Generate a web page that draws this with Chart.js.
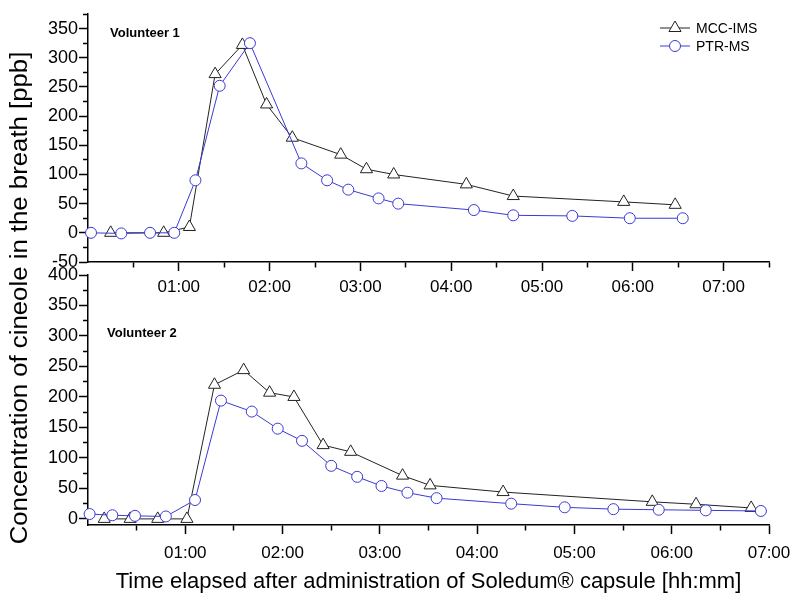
<!DOCTYPE html>
<html>
<head>
<meta charset="utf-8">
<script src="https://cdn.jsdelivr.net/npm/chart.js@4.4.0/dist/chart.umd.min.js"></script>
<style>
  body { margin: 0; background: #fff; }
  #wrap { position: relative; width: 800px; height: 607px; }
  #wrap canvas { position: absolute; left: 0; top: 0; }
</style>
</head>
<body>
<div id="wrap">
  <canvas id="topChart" width="800" height="607"></canvas>
  <canvas id="bottomChart" width="800" height="607"></canvas>
</div>
<script>
// Volunteer 1 - time in minutes after capsule, concentration in ppb
const v1MccTime = [15, 50, 67, 84, 102, 118, 135, 167, 184, 202, 250, 281, 354, 388];
const v1MccValue = [0, 0, 10, 272, 322, 220, 163, 134, 109, 100, 83, 63, 53, 48];
const v1PtrTime = [2, 22, 41, 57, 71, 87, 107, 141, 158, 172, 192, 205, 255, 281, 320, 358, 393];
const v1PtrValue = [0, -1, 0, 0, 90, 252, 325, 119, 90, 74, 59, 50, 39, 30, 29, 25, 25];

// Volunteer 2
const v2MccTime = [10, 26, 43, 61, 78, 96, 112, 127, 145, 162, 194, 211, 256, 348, 375, 409];
const v2MccValue = [0, 0, 0, 0, 220, 244, 207, 200, 121, 110, 71, 55, 44, 28, 24, 18];
const v2PtrTime = [1, 15, 29, 48, 66, 82, 101, 117, 132, 150, 166, 181, 197, 215, 261, 294, 324, 352, 381, 415];
const v2PtrValue = [8, 6, 5, 4, 31, 194, 176, 148, 128, 87, 69, 54, 43, 34, 25, 19, 16, 15, 14, 13];

// Tick labels
const timeTicks = [60, 120, 180, 240, 300, 360, 420];
const timeTickLabels = ['01:00', '02:00', '03:00', '04:00', '05:00', '06:00', '07:00'];

const seriesNames = ['MCC-IMS', 'PTR-MS'];
const panelNames = ['Volunteer 1', 'Volunteer 2'];
const yTitle = 'Concentration of cineole in the breath [ppb]';
const xTitle = 'Time elapsed after administration of Soledum\u00AE capsule [hh:mm]';

const BLUE = '#3a3ad4';
const FONT = '"Liberation Sans", Arial, sans-serif';

function pairs(xs, ys) {
    return xs.map((x, i) => ({ x: x, y: ys[i] }));
}

function makeDatasets(mccT, mccV, ptrT, ptrV) {
    return [
        {
            label: seriesNames[0],
            data: pairs(mccT, mccV),
            borderColor: '#222',
            borderWidth: 1,
            backgroundColor: '#fff',
            pointStyle: 'triangle',
            pointRadius: 7,
            pointBorderWidth: 1,
            pointBorderColor: '#222',
            pointBackgroundColor: '#fff',
            clip: false,
            order: 2
        },
        {
            label: seriesNames[1],
            data: pairs(ptrT, ptrV),
            borderColor: BLUE,
            borderWidth: 1,
            backgroundColor: '#fff',
            pointStyle: 'circle',
            pointRadius: 5.5,
            pointBorderWidth: 1,
            pointBorderColor: BLUE,
            pointBackgroundColor: '#fff',
            clip: false,
            order: 1
        }
    ];
}

// x axis in minutes, major ticks every hour, minor every half hour
function timeAxis(max, height, labelPad, title) {
    return {
        type: 'linear',
        min: 0,
        max: max,
        afterBuildTicks: s => {
            s.ticks = [];
            for (let v = 30; v <= max; v += 30) s.ticks.push({ value: v });
        },
        afterFit: s => { s.height = height; },
        border: { display: true, color: '#000', width: 1.5 },
        grid: {
            drawOnChartArea: false,
            tickLength: 9,
            tickWidth: 1.5,
            tickColor: '#000',
            tickBorderDash: ctx => (ctx.tick && ctx.tick.value % 60 === 0) ? [] : [5, 100]
        },
        ticks: {
            autoSkip: false,
            maxRotation: 0,
            padding: labelPad,
            color: '#000',
            font: { family: FONT, size: 17 },
            callback: v => {
                const i = timeTicks.indexOf(v);
                return i >= 0 ? timeTickLabels[i] : '';
            }
        },
        title: title ? {
            display: true,
            text: title,
            color: '#000',
            font: { family: FONT, size: 22 },
            padding: { top: 0, bottom: 12 }
        } : { display: false }
    };
}

// y axis, labels every 50, minor ticks every 25
function valueAxis(min, max, lastLabel) {
    return {
        type: 'linear',
        min: min,
        max: max,
        afterBuildTicks: s => {
            s.ticks = [];
            for (let v = Math.ceil(min / 25) * 25; v <= max; v += 25) s.ticks.push({ value: v });
        },
        afterFit: s => { s.width = 88; },
        border: { display: true, color: '#000', width: 1.5 },
        grid: {
            drawOnChartArea: false,
            tickLength: 9,
            tickWidth: 1.5,
            tickColor: '#000',
            tickBorderDash: ctx => (ctx.tick && ctx.tick.value % 50 === 0) ? [] : [0, 4, 5, 100]
        },
        ticks: {
            autoSkip: false,
            padding: 1,
            color: '#000',
            font: { family: FONT, size: 18 },
            callback: v => (v % 50 === 0 && v <= lastLabel) ? String(v) : ''
        }
    };
}

// panel caption
function captionPlugin(text, x, y) {
    return {
        id: 'caption',
        afterDraw(chart) {
            const ctx = chart.ctx;
            ctx.save();
            ctx.font = 'bold 13px ' + FONT;
            ctx.fillStyle = '#000';
            ctx.textAlign = 'left';
            ctx.textBaseline = 'middle';
            ctx.fillText(text, x, y);
            ctx.restore();
        }
    };
}

// line - marker - line legend in the top right corner
const legendPlugin = {
    id: 'lineLegend',
    afterDraw(chart) {
        const ctx = chart.ctx;
        const rows = [28, 46];
        chart.data.datasets.forEach((ds, i) => {
            const y = rows[i];
            ctx.save();
            ctx.strokeStyle = ds.borderColor;
            ctx.lineWidth = 1;
            ctx.beginPath();
            ctx.moveTo(660, y);
            ctx.lineTo(690, y);
            ctx.stroke();
            ctx.fillStyle = '#fff';
            ctx.strokeStyle = ds.pointBorderColor;
            Chart.helpers.drawPoint(ctx, {
                pointStyle: ds.pointStyle,
                radius: ds.pointRadius,
                borderWidth: 1,
                rotation: 0
            }, 675, y);
            ctx.fillStyle = '#000';
            ctx.font = '14px ' + FONT;
            ctx.textAlign = 'left';
            ctx.textBaseline = 'middle';
            ctx.fillText(ds.label, 696, y + 1);
            ctx.restore();
        });
    }
};

// rotated y title spanning both panels
const yTitlePlugin = {
    id: 'yTitle',
    afterDraw(chart) {
        const ctx = chart.ctx;
        ctx.save();
        ctx.translate(21, 298);
        ctx.rotate(-Math.PI / 2);
        ctx.scale(1.12, 1);
        ctx.font = '23px ' + FONT;
        ctx.fillStyle = '#000';
        ctx.textAlign = 'center';
        ctx.textBaseline = 'middle';
        ctx.fillText(yTitle, 0, 0);
        ctx.restore();
    }
};

const baseOptions = {
    responsive: false,
    animation: false,
    devicePixelRatio: 1,
    plugins: { legend: { display: false }, tooltip: { enabled: false } },
    elements: { line: { tension: 0 } }
};

new Chart(document.getElementById('topChart').getContext('2d'), {
    type: 'line',
    data: { datasets: makeDatasets(v1MccTime, v1MccValue, v1PtrTime, v1PtrValue) },
    options: Object.assign({}, baseOptions, {
        layout: { padding: { left: 0, top: 14, right: 31, bottom: 315 } },
        scales: {
            x: timeAxis(450, 30, 6, null),
            y: valueAxis(-50, 375, 350)
        }
    }),
    plugins: [captionPlugin(panelNames[0], 110, 33), legendPlugin]
});

new Chart(document.getElementById('bottomChart').getContext('2d'), {
    type: 'line',
    data: { datasets: makeDatasets(v2MccTime, v2MccValue, v2PtrTime, v2PtrValue) },
    options: Object.assign({}, baseOptions, {
        layout: { padding: { left: 0, top: 275, right: 31, bottom: 0 } },
        scales: {
            x: timeAxis(420, 82, 9, xTitle),
            y: valueAxis(-10, 400, 400)
        }
    }),
    plugins: [captionPlugin(panelNames[1], 107, 333), yTitlePlugin]
});
</script>
</body>
</html>
